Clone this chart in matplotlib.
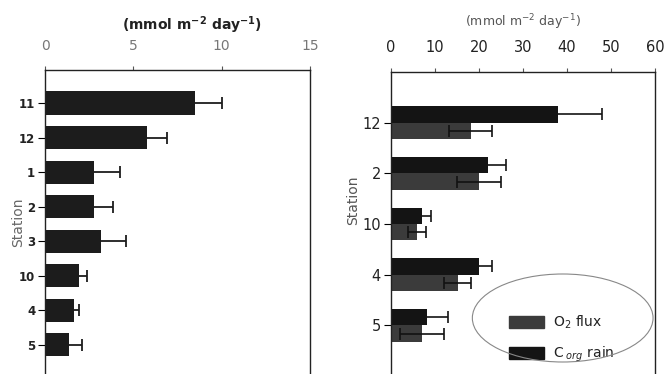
import matplotlib
matplotlib.use("Agg")
import matplotlib.pyplot as plt
from matplotlib.patches import Ellipse, Patch
import numpy as np

# Left panel data
left_stations = ["11", "12", "1", "2", "3", "10", "4", "5"]
left_values = [8.5, 5.75, 2.75, 2.75, 3.15, 1.95, 1.65, 1.35]
left_errors = [1.5, 1.15, 1.5, 1.1, 1.45, 0.45, 0.25, 0.75]

# Right panel data
right_stations = ["12", "2", "10", "4", "5"]
corg_rain = [38.0, 22.0, 7.0, 20.0, 8.2]
corg_err = [10.0, 4.1, 2.1, 3.0, 4.9]
o2_flux = [18.2, 20.1, 6.0, 15.2, 7.1]
o2_err = [4.9, 5.0, 2.1, 3.0, 5.1]

left_ticks = [0, 5, 10, 15]
right_ticks = [0, 10, 20, 30, 40, 50, 60]

W, H = 666, 374
fig = plt.figure(figsize=(W / 100, H / 100), dpi=100)
fig.patch.set_facecolor("white")

def fx(px):
    return px / W

def fy(py):
    return 1 - py / H

# ---------- Left panel ----------
axL = fig.add_axes([fx(45), 0, fx(310) - fx(45), fy(70)])
yl = np.arange(len(left_stations))
axL.barh(yl, left_values, height=0.67, color="#1c1c1c",
         xerr=left_errors, error_kw=dict(ecolor="#1c1c1c", elinewidth=1.3, capsize=4.5, capthick=1.3))
axL.set_xlim(0, 15)
axL.set_ylim(7.85, -0.957)
axL.xaxis.tick_top()
axL.set_xticks(left_ticks)
axL.set_xticklabels([str(t) for t in left_ticks], color="#777777", fontsize=10)
axL.tick_params(axis="x", direction="out", length=3, pad=9, color="#555555")
axL.set_yticks(yl)
axL.set_yticklabels(left_stations, fontsize=8.5, fontweight="bold", color="#222222")
axL.tick_params(axis="y", direction="out", length=5, width=0.8, pad=2)
axL.spines["bottom"].set_visible(False)
for s in ["left", "right", "top"]:
    axL.spines[s].set_linewidth(1.0)
    axL.spines[s].set_color("#222222")
fig.text(fx(192), fy(25), r"(mmol m$^{\mathbf{-2}}$ day$^{\mathbf{-1}}$)", ha="center", va="center",
         fontsize=10, fontweight="bold", color="#222222")
fig.text(fx(18), fy(222), "Station", rotation=90, ha="center", va="center",
         fontsize=10, color="#666666")

# ---------- Right panel ----------
axR = fig.add_axes([fx(390.7), 0, fx(655) - fx(390.7), fy(72)])
yr = np.arange(len(right_stations))
bh = 0.325
axR.barh(yr - bh / 2, corg_rain, height=bh, color="#141414",
         xerr=corg_err, error_kw=dict(ecolor="#141414", elinewidth=1.2, capsize=4.5, capthick=1.2))
axR.barh(yr + bh / 2, o2_flux, height=bh, color="#3b3b3b",
         xerr=o2_err, error_kw=dict(ecolor="#111111", elinewidth=1.2, capsize=4.5, capthick=1.2))
axR.set_xlim(0, 60)
axR.set_ylim(4.96, -1.0)
axR.xaxis.tick_top()
axR.set_xticks(right_ticks)
axR.set_xticklabels([str(t) for t in right_ticks], fontsize=10.5, color="#222222")
axR.tick_params(axis="x", direction="out", length=3, pad=9, color="#555555")
axR.set_yticks(yr)
axR.set_yticklabels(right_stations, fontsize=10.5, color="#222222")
axR.tick_params(axis="y", direction="out", length=5, width=0.8, pad=2)
axR.spines["bottom"].set_visible(False)
for s in ["left", "right", "top"]:
    axR.spines[s].set_linewidth(1.0)
    axR.spines[s].set_color("#222222")
fig.text(fx(523), fy(22), r"(mmol m$^{-2}$ day$^{-1}$)", ha="center", va="center",
         fontsize=9, color="#555555")
fig.text(fx(353), fy(200), "Station", rotation=90, ha="center", va="center",
         fontsize=10, color="#555555")

# Legend inside an ellipse
fig.add_artist(Ellipse((fx(562.7), fy(318)), 180.7 / W, 88 / H, transform=fig.transFigure,
                       fill=False, edgecolor="#888888", lw=0.8))
handles = [Patch(facecolor="#3b3b3b", edgecolor="#3b3b3b", label=r"O$_2$ flux"),
           Patch(facecolor="#141414", edgecolor="#141414", label=r"C$_{\ org}$ rain")]
axR.legend(handles=handles, loc="center", bbox_to_anchor=(fx(562), fy(339)),
           bbox_transform=fig.transFigure, frameon=False, fontsize=10,
           handlelength=2.5, handleheight=0.9, labelspacing=1.0, handletextpad=0.7,
           labelcolor="#222222")

fig.savefig("out.png", dpi=100, facecolor="white")
